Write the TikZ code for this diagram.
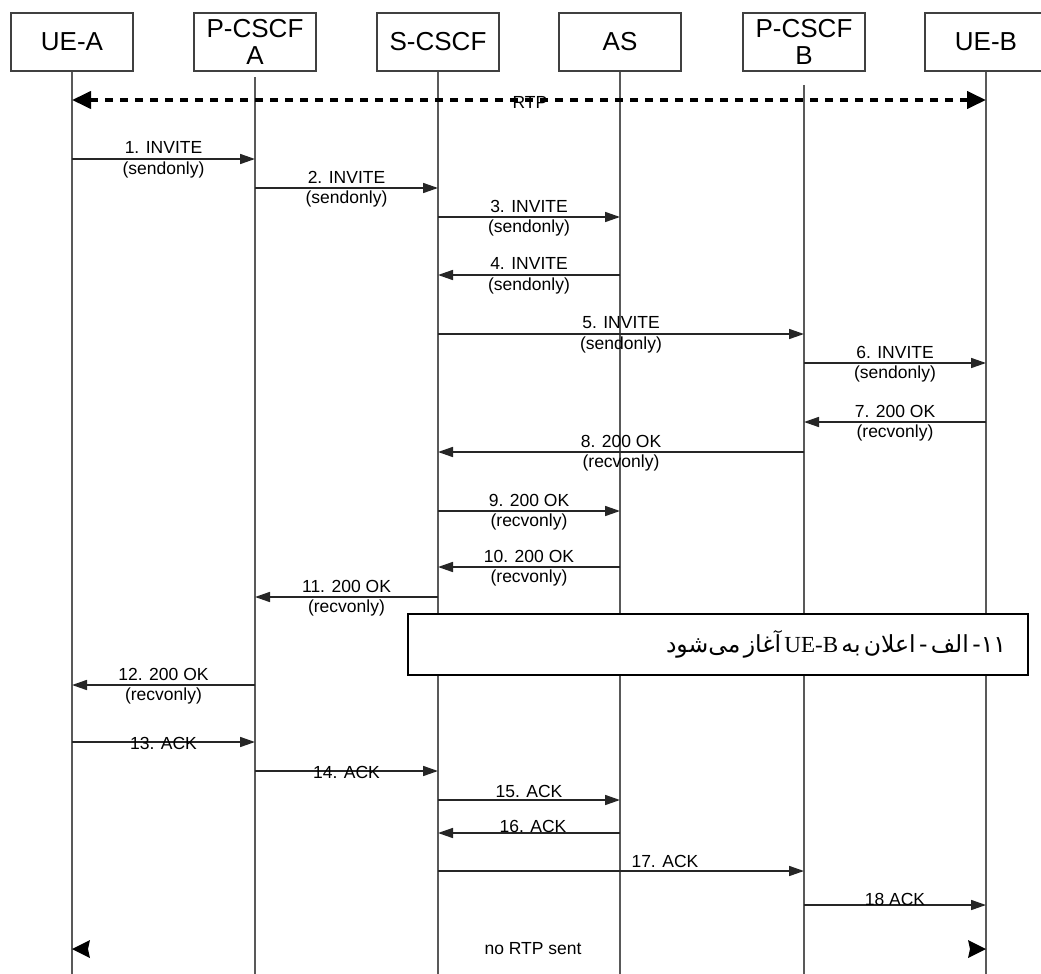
\documentclass[tikz,border=0pt]{standalone}
\usepackage{fontspec}
\setmainfont{Liberation Sans}
\newfontfamily\arabicfont[Script=Arabic]{DejaVu Sans}
\newfontfamily\seriffont{Liberation Serif}
\TeXXeTstate=1
\usetikzlibrary{arrows.meta}
\begin{document}
\begin{tikzpicture}[x=1pt,y=-1pt,
  hdr/.style={draw=black!75, line width=1.5pt, fill=white, minimum width=122pt, minimum height=58pt,
              inner sep=0pt, align=center, font=\fontsize{26}{29}\selectfont},
  life/.style={draw=black!65, line width=2pt},
  msg/.style={draw=black!85, line width=1.6pt, -{Triangle[length=15pt,width=10pt]}},
  rtp/.style={draw=black, line width=4pt, dash pattern=on 8pt off 7pt,
              {Triangle[length=19pt,width=17pt]}-{Triangle[length=19pt,width=17pt]}},
  lbl/.style={font=\fontsize{17.5}{19.5}\selectfont, inner sep=0pt},
  lbltwo/.style={font=\fontsize{17.5}{20.5}\selectfont, inner sep=0pt, align=center, yshift=-1pt},
  note/.style={draw=black, line width=1.2pt, fill=white, minimum width=620pt, minimum height=61pt,
               text width=576pt, inner xsep=22pt, inner ysep=0pt, align=right}
]
\useasboundingbox (0,0) rectangle (1041,974);
\clip (0,0) rectangle (1041,974);
\fill[white] (0,0) rectangle (1041,974);

% headers
\node[hdr] (ueA) at (72,42) {UE-A};
\node[hdr] (pA)  at (255,42) {\raisebox{-2pt}{P-CSCF}\\A};
\node[hdr] (sC)  at (438,42) {S-CSCF};
\node[hdr] (as)  at (620,42) {AS};
\node[hdr] (pB)  at (804,42) {\raisebox{-2pt}{P-CSCF}\\B};
\node[hdr] (ueB) at (986,42) {UE-B};

% lifelines
\draw[life] (ueA.south) -- (ueA.south |- 0,974);
\draw[life] ([yshift=-5pt]pA.south) -- (pA.south |- 0,974);
\draw[life] (sC.south) -- (sC.south |- 0,974);
\draw[life] (as.south) -- (as.south |- 0,974);
\draw[life] ([yshift=-13pt]pB.south) -- (pB.south |- 0,974);
\draw[life] (ueB.south) -- (ueB.south |- 0,974);

% RTP
\draw[rtp] (ueA |- 0,100) -- (ueB |- 0,100);
\node[lbl] (rtplbl) at (530,102) {RTP};

% INVITE sequence
\draw[msg] (ueA |- 0,159) -- node[lbltwo] (m1) {1. INVITE\\(sendonly)} (pA |- 0,159);
\draw[msg] (pA |- 0,188) -- node[lbltwo] (m2) {2. INVITE\\(sendonly)} (sC |- 0,188);
\draw[msg] (sC |- 0,217) -- node[lbltwo] (m3) {3. INVITE\\(sendonly)} (as |- 0,217);
\draw[msg] (as |- 0,275) -- node[lbltwo] (m4) {4. INVITE\\(sendonly)} (sC |- 0,275);
\draw[msg] (sC |- 0,334) -- node[lbltwo] (m5) {5. INVITE\\(sendonly)} (pB |- 0,334);
\draw[msg] (pB |- 0,363) -- node[lbltwo] (m6) {6. INVITE\\(sendonly)} (ueB |- 0,363);

% 200 OK sequence
\draw[msg] (ueB |- 0,422) -- node[lbltwo] (m7) {7. 200 OK\\(recvonly)} (pB |- 0,422);
\draw[msg] (pB |- 0,452) -- node[lbltwo] (m8) {8. 200 OK\\(recvonly)} (sC |- 0,452);
\draw[msg] (sC |- 0,511) -- node[lbltwo] (m9) {9. 200 OK\\(recvonly)} (as |- 0,511);
\draw[msg] (as |- 0,567) -- node[lbltwo] (m10) {10. 200 OK\\(recvonly)} (sC |- 0,567);
\draw[msg] (sC |- 0,597) -- node[lbltwo] (m11) {11. 200 OK\\(recvonly)} (pA |- 0,597);

% note
\node[note] (n11a) at (718,644.5) {\arabicfont\fontsize{23.5}{27}\selectfont\beginR ۱۱- الف - اعلان به \beginL{\seriffont\fontsize{23}{27}\selectfont UE-B}\endL{} آغاز می‌شود\endR};

\draw[msg] (pA |- 0,685) -- node[lbltwo] (m12) {12. 200 OK\\(recvonly)} (ueA |- 0,685);

% ACK sequence
\draw[msg] (ueA |- 0,742) -- node[lbl, anchor=base, yshift=-7.3pt] (m13) {13. ACK} (pA |- 0,742);
\draw[msg] (pA |- 0,771) -- node[lbl, anchor=base, yshift=-7.3pt] (m14) {14. ACK} (sC |- 0,771);
\draw[msg] (sC |- 0,800) -- node[lbl, anchor=base, yshift=2.7pt] (m15) {15. ACK} (as |- 0,800);
\draw[msg] (as |- 0,833) -- node[lbl, anchor=base, yshift=0.3pt, xshift=4pt] (m16) {16. ACK} (sC |- 0,833);
\draw[msg] (sC |- 0,871) -- node[lbl, anchor=base, yshift=4pt, pos=0.62] (m17) {17. ACK} (pB |- 0,871);
\draw[msg] (pB |- 0,905) -- node[lbl, anchor=base, yshift=0pt] (m18) {18 ACK} (ueB |- 0,905);

% no RTP sent
\node[lbl] (nortp) at (533,949) {no RTP sent};
\coordinate (nL) at (ueA |- 0,949);
\coordinate (nR) at (ueB |- 0,949);
\fill[black] (nL) -- ++(18,-9) -- ++(-2,9) -- ++(2,9) -- cycle;
\fill[black] (nR) -- ++(-18,-9) -- ++(2,9) -- ++(-2,9) -- cycle;
\end{tikzpicture}
\end{document}
